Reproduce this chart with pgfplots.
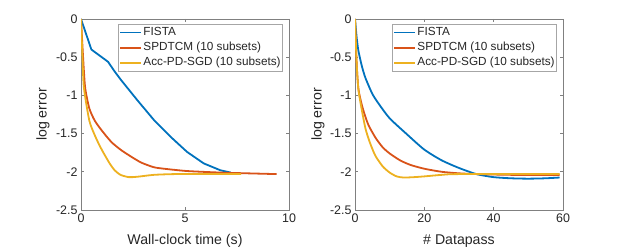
\documentclass[border=0pt]{standalone}
\usepackage{fontspec}
\setmainfont{Liberation Sans}
\usepackage{pgfplots}
\pgfplotsset{compat=1.18}
\definecolor{mblue}{rgb}{0,0.447,0.741}
\definecolor{mred}{rgb}{0.85,0.325,0.098}
\definecolor{myellow}{rgb}{0.929,0.694,0.125}
\pgfplotsset{
  mystyle/.style={
    scale only axis, width=208bp, height=191bp,
    anchor=south west,
    ymin=-2.5, ymax=0,
    ytick={-2.5,-2,-1.5,-1,-0.5,0},
    yticklabels={-2.5,-2,-1.5,-1,-0.5,0},
    axis line style={black!50, line width=0.6bp},
    tick style={black!50, line width=0.6bp},
    major tick length=3bp,
    tick align=inside,
    ticklabel style={font=\fontsize{12.5}{14}\selectfont, text=black!85},
    label style={font=\fontsize{14.2}{16}\selectfont, text=black!85},
    /pgf/number format/assume math mode=true,
    ylabel={log error},
    ylabel style={at={(axis description cs:-0.183,0.5)}, anchor=center, rotate=0},
    xlabel style={at={(axis description cs:0.5,-0.162)}, anchor=center},
    legend cell align=left,
    legend style={at={(0.971,0.974)}, anchor=north east, draw=black!35, line width=0.6bp,
      font=\fontsize{11.8}{13}\selectfont, text=black!85,
      inner xsep=0.8bp, inner ysep=0.6bp, row sep=0pt,
      nodes={inner xsep=1.2bp, inner ysep=2.7bp, text depth=0.25em, text height=0.75em}},
    legend image code/.code={\draw[#1, line width=1.8bp] (0bp,0bp) -- (21bp,0bp);},
  }
}
\begin{document}
\begin{tikzpicture}
\path[use as bounding box] (0,0) rectangle (623bp,250bp);
\begin{axis}[mystyle, at={(81bp,40bp)}, xmin=0, xmax=10, xtick={0,5,10},
  xlabel={Wall-clock time (s)}]
\addplot[mblue, line width=1.8bp, no markers] coordinates {(0,0) (0.5,-0.40) (1.3,-0.56) (1.6,-0.68) (1.9,-0.79) (2.7,-1.06) (3.5,-1.32) (4.3,-1.54) (5.1,-1.74) (5.9,-1.89) (6.7,-1.98) (7.2,-2.01)};
\addlegendentry{FISTA}
\addplot[mred, line width=1.8bp, no markers, smooth, tension=0.4] coordinates {(0,0) (0.1,-0.5) (0.2,-0.9) (0.4,-1.17) (0.66,-1.33) (1.0,-1.46) (1.46,-1.61) (1.9,-1.71) (2.4,-1.80) (2.9,-1.88) (3.5,-1.94) (4.0,-1.96) (5.1,-1.99) (6.7,-2.01) (8,-2.02) (9.4,-2.03)};
\addlegendentry{SPDTCM (10 subsets)}
\addplot[myellow, line width=1.8bp, no markers, smooth, tension=0.4] coordinates {(0,0) (0.07,-0.5) (0.14,-0.9) (0.4,-1.33) (0.66,-1.52) (0.9,-1.66) (1.14,-1.78) (1.4,-1.90) (1.62,-1.98) (1.9,-2.04) (2.3,-2.07) (2.7,-2.065) (3.5,-2.04) (4.5,-2.03) (6,-2.03) (7.7,-2.03)};
\addlegendentry{Acc-PD-SGD (10 subsets)}
\end{axis}
\begin{axis}[mystyle, at={(355bp,40bp)}, xmin=0, xmax=60, xtick={0,20,40,60},
  xlabel={\# Datapass}, ylabel style={at={(axis description cs:-0.178,0.5)}}]
\addplot[mblue, line width=1.8bp, no markers, smooth, tension=0.4] coordinates {(0,0) (0.5,-0.25) (1,-0.42) (2,-0.62) (3,-0.77) (5,-0.98) (7,-1.12) (10,-1.30) (15,-1.51) (20,-1.71) (25,-1.85) (30,-1.95) (35,-2.03) (40,-2.07) (45,-2.085) (50,-2.09) (55,-2.085) (59,-2.075)};
\addlegendentry{FISTA}
\addplot[mred, line width=1.8bp, no markers, smooth, tension=0.4] coordinates {(0,0) (0.5,-0.6) (1,-0.92) (2,-1.13) (3,-1.28) (4,-1.40) (6,-1.56) (8,-1.68) (10,-1.76) (13,-1.85) (16,-1.91) (20,-1.96) (25,-2.00) (30,-2.02) (35,-2.03) (45,-2.04) (59,-2.04)};
\addlegendentry{SPDTCM (10 subsets)}
\addplot[myellow, line width=1.8bp, no markers, smooth, tension=0.4] coordinates {(0,0) (0.5,-0.6) (1,-0.93) (2,-1.2) (3,-1.43) (4,-1.58) (5,-1.70) (6,-1.80) (8,-1.93) (10,-2.01) (12,-2.06) (14,-2.075) (17,-2.07) (20,-2.06) (25,-2.04) (30,-2.03) (59,-2.03)};
\addlegendentry{Acc-PD-SGD (10 subsets)}
\end{axis}
\end{tikzpicture}
\end{document}
